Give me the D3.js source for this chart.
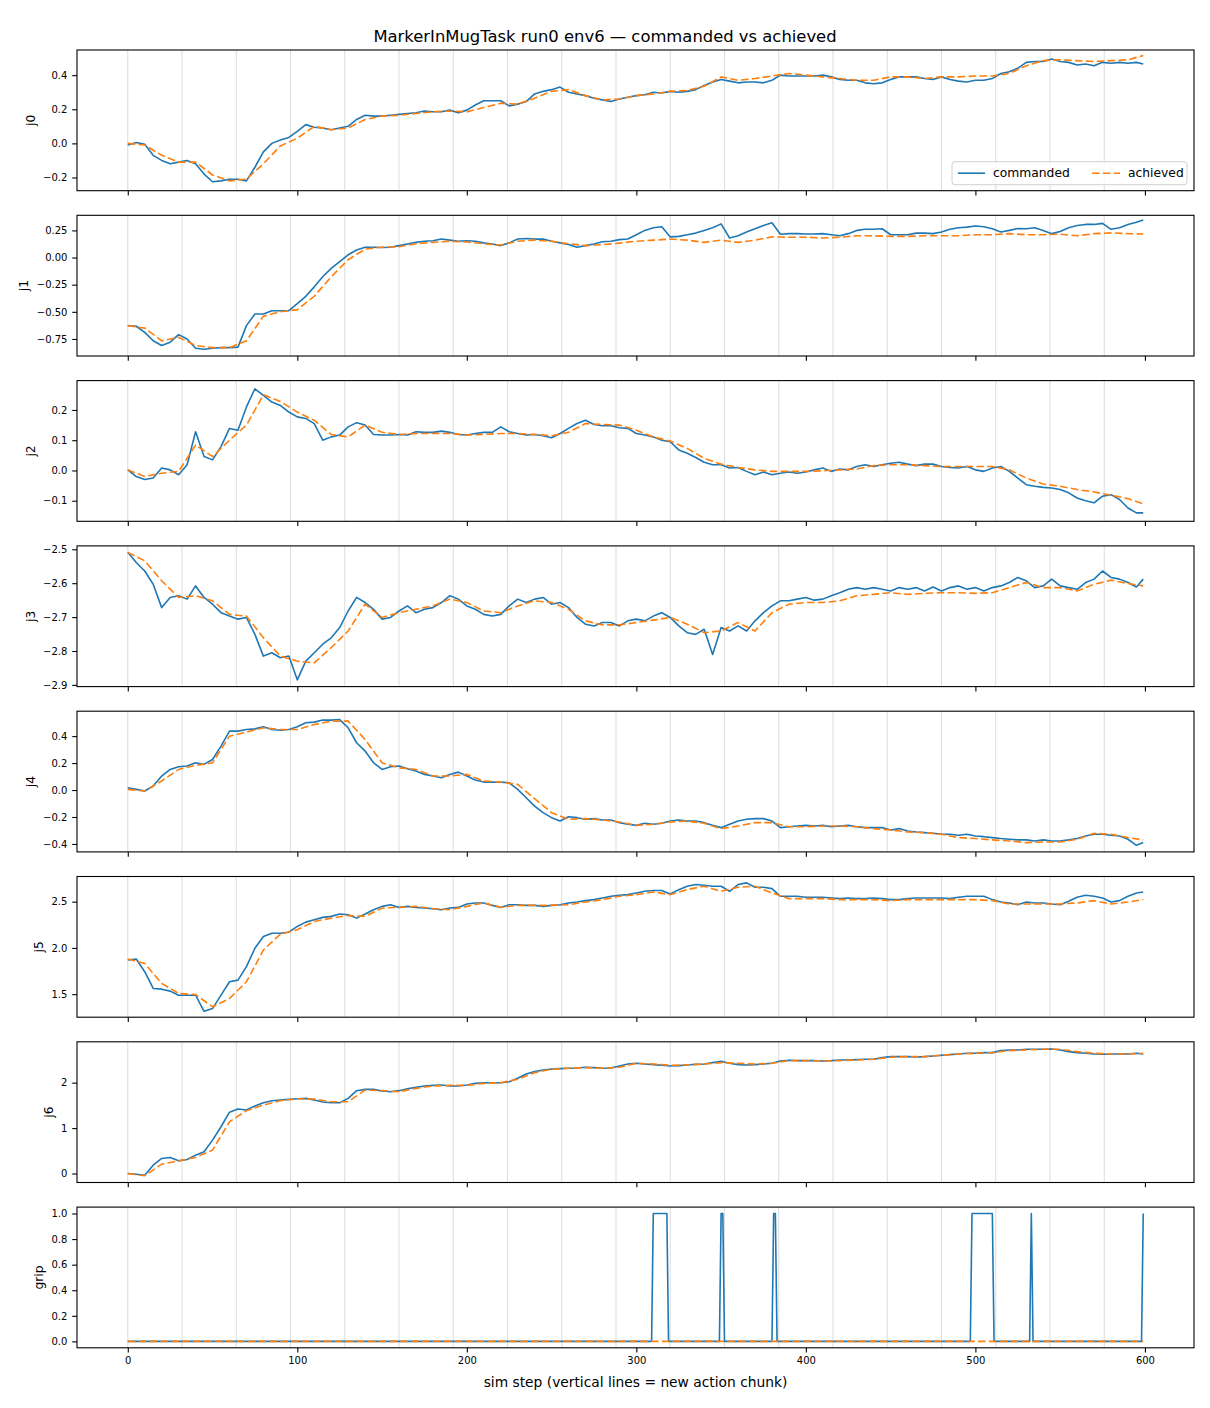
<!DOCTYPE html>
<html><head><meta charset="utf-8">
<script src="https://cdn.jsdelivr.net/npm/d3@7"></script>
<style>body{margin:0;background:#fff} svg{font-family:"DejaVu Sans",sans-serif}</style>
</head><body><svg id="c" width="1210" height="1408"></svg>
<script>
// ---------------- DATA ----------------
const titleText = "MarkerInMugTask run0 env6 \u2014 commanded vs achieved";
const xLabelText = "sim step (vertical lines = new action chunk)";
const jointNames = ["j0","j1","j2","j3","j4","j5","j6","grip"];
const chunkStarts = [0,32,64,96,128,160,192,224,256,288,320,352,384,416,448,480,512,544,576];
const xTickValues = [0,100,200,300,400,500,600];
// commanded sampled every 5 steps (last = 599), achieved every 10 steps (last = 599)
const cmdSteps = d3.range(0,600,5).concat([599]);
const achSteps = d3.range(0,600,10).concat([599]);

const j0Commanded = [-0.01,0.005,-0.005,-0.07,-0.10,-0.12,-0.11,-0.10,-0.12,-0.18,
-0.225,-0.22,-0.21,-0.21,-0.22,-0.14,-0.05,0.0,0.02,0.035,
0.07,0.11,0.095,0.09,0.08,0.09,0.10,0.14,0.165,0.16,
0.16,0.165,0.17,0.175,0.18,0.19,0.185,0.185,0.195,0.18,
0.195,0.225,0.25,0.25,0.25,0.22,0.23,0.245,0.29,0.305,
0.315,0.33,0.30,0.29,0.28,0.265,0.255,0.245,0.26,0.27,
0.28,0.285,0.30,0.295,0.305,0.30,0.305,0.315,0.34,0.36,
0.375,0.365,0.355,0.36,0.36,0.355,0.37,0.40,0.395,0.395,
0.395,0.395,0.40,0.39,0.375,0.37,0.37,0.355,0.35,0.355,
0.375,0.39,0.39,0.39,0.38,0.375,0.39,0.375,0.365,0.36,
0.37,0.37,0.38,0.41,0.42,0.44,0.475,0.48,0.48,0.495,
0.48,0.475,0.46,0.465,0.455,0.475,0.47,0.475,0.47,0.475,
0.465];
const j0Achieved = [0.0,-0.01,-0.07,-0.11,-0.11,-0.185,-0.22,-0.21,-0.12,-0.015,
0.03,0.10,0.08,0.09,0.14,0.16,0.165,0.175,0.185,0.19,
0.185,0.21,0.235,0.23,0.265,0.305,0.315,0.28,0.255,0.26,
0.28,0.29,0.305,0.31,0.335,0.39,0.37,0.38,0.395,0.41,
0.40,0.39,0.38,0.37,0.37,0.39,0.39,0.38,0.39,0.39,
0.395,0.395,0.41,0.455,0.485,0.49,0.485,0.48,0.485,0.49,
0.515];

const j1Commanded = [-0.627,-0.633,-0.69,-0.767,-0.81,-0.78,-0.71,-0.75,-0.835,-0.845,
-0.835,-0.83,-0.83,-0.825,-0.627,-0.52,-0.52,-0.49,-0.49,-0.49,
-0.425,-0.357,-0.27,-0.177,-0.10,-0.037,0.025,0.07,0.095,0.095,
0.093,0.095,0.11,0.125,0.14,0.15,0.155,0.17,0.16,0.15,
0.155,0.15,0.135,0.125,0.11,0.135,0.17,0.175,0.17,0.17,
0.15,0.135,0.12,0.095,0.11,0.125,0.145,0.15,0.165,0.17,
0.21,0.25,0.275,0.283,0.19,0.195,0.21,0.225,0.25,0.275,
0.31,0.18,0.20,0.235,0.265,0.295,0.32,0.215,0.22,0.22,
0.217,0.217,0.22,0.21,0.20,0.22,0.25,0.26,0.26,0.265,
0.21,0.21,0.21,0.225,0.225,0.22,0.235,0.26,0.275,0.28,
0.29,0.283,0.265,0.235,0.25,0.267,0.265,0.275,0.25,0.22,
0.24,0.275,0.295,0.305,0.305,0.315,0.26,0.275,0.305,0.325,
0.345];
const j1Achieved = [-0.627,-0.65,-0.767,-0.735,-0.81,-0.83,-0.83,-0.767,-0.54,-0.50,
-0.48,-0.357,-0.177,-0.02,0.078,0.095,0.10,0.127,0.14,0.15,
0.143,0.127,0.115,0.15,0.16,0.15,0.127,0.11,0.118,0.133,
0.15,0.16,0.17,0.16,0.14,0.16,0.14,0.16,0.19,0.187,
0.187,0.18,0.187,0.20,0.20,0.195,0.195,0.20,0.20,0.20,
0.21,0.21,0.22,0.21,0.21,0.215,0.20,0.22,0.227,0.22,
0.217];

const j2Commanded = [0.002,-0.02,-0.03,-0.025,0.008,0.002,-0.014,0.019,0.128,0.046,
0.035,0.079,0.139,0.133,0.21,0.27,0.248,0.226,0.215,0.193,
0.177,0.172,0.155,0.10,0.111,0.117,0.144,0.158,0.15,0.119,
0.117,0.117,0.119,0.117,0.128,0.126,0.126,0.13,0.126,0.119,
0.117,0.122,0.126,0.126,0.144,0.128,0.122,0.117,0.119,0.115,
0.108,0.122,0.139,0.155,0.166,0.152,0.148,0.148,0.141,0.139,
0.122,0.117,0.111,0.10,0.095,0.068,0.057,0.043,0.027,0.019,
0.019,0.008,0.01,-0.003,-0.014,-0.005,-0.014,-0.009,-0.005,-0.009,
-0.005,0.002,0.008,-0.003,0.005,0.002,0.013,0.019,0.013,0.019,
0.024,0.027,0.021,0.016,0.021,0.021,0.013,0.01,0.008,0.013,
0.002,-0.003,0.008,0.013,-0.003,-0.025,-0.047,-0.052,-0.056,-0.058,
-0.063,-0.074,-0.091,-0.10,-0.107,-0.085,-0.08,-0.096,-0.124,-0.14,
-0.14];
const j2Achieved = [0.002,-0.02,-0.009,-0.003,0.084,0.046,0.10,0.15,0.25,0.228,
0.193,0.166,0.119,0.111,0.15,0.126,0.119,0.122,0.122,0.122,
0.117,0.119,0.122,0.122,0.119,0.115,0.126,0.155,0.152,0.15,
0.133,0.111,0.097,0.073,0.04,0.021,0.01,0.002,-0.003,-0.003,
-0.003,-0.001,0.002,0.005,0.016,0.019,0.019,0.016,0.013,0.013,
0.013,0.013,0.002,-0.025,-0.045,-0.052,-0.063,-0.071,-0.082,-0.093,
-0.11];

const j3Commanded = [-2.509,-2.539,-2.564,-2.603,-2.672,-2.642,-2.637,-2.647,-2.608,-2.642,
-2.662,-2.687,-2.697,-2.706,-2.701,-2.751,-2.815,-2.805,-2.82,-2.815,
-2.885,-2.83,-2.805,-2.78,-2.761,-2.731,-2.682,-2.642,-2.657,-2.677,
-2.706,-2.701,-2.682,-2.667,-2.687,-2.677,-2.672,-2.657,-2.637,-2.647,
-2.667,-2.677,-2.692,-2.697,-2.692,-2.667,-2.647,-2.657,-2.647,-2.642,
-2.662,-2.657,-2.672,-2.701,-2.721,-2.726,-2.716,-2.716,-2.726,-2.711,
-2.706,-2.711,-2.697,-2.687,-2.701,-2.726,-2.746,-2.751,-2.736,-2.81,
-2.731,-2.741,-2.726,-2.741,-2.711,-2.687,-2.667,-2.652,-2.652,-2.647,
-2.642,-2.65,-2.647,-2.637,-2.628,-2.618,-2.613,-2.618,-2.613,-2.618,
-2.623,-2.613,-2.618,-2.613,-2.623,-2.611,-2.623,-2.613,-2.608,-2.618,
-2.613,-2.623,-2.613,-2.608,-2.598,-2.583,-2.593,-2.613,-2.608,-2.588,
-2.608,-2.613,-2.618,-2.598,-2.588,-2.564,-2.583,-2.588,-2.598,-2.611,
-2.588];
const j3Achieved = [-2.509,-2.534,-2.593,-2.642,-2.637,-2.652,-2.692,-2.697,-2.761,-2.815,
-2.83,-2.835,-2.79,-2.741,-2.662,-2.701,-2.687,-2.677,-2.667,-2.647,
-2.657,-2.682,-2.687,-2.667,-2.652,-2.657,-2.677,-2.711,-2.723,-2.723,
-2.716,-2.709,-2.701,-2.721,-2.746,-2.741,-2.716,-2.741,-2.687,-2.662,
-2.657,-2.657,-2.652,-2.637,-2.633,-2.628,-2.633,-2.63,-2.628,-2.628,
-2.63,-2.628,-2.613,-2.598,-2.613,-2.613,-2.623,-2.603,-2.591,-2.601,
-2.608];

const j4Commanded = [0.017,0.005,-0.007,0.03,0.104,0.153,0.173,0.178,0.202,0.19,
0.227,0.326,0.437,0.437,0.449,0.454,0.469,0.449,0.444,0.449,
0.469,0.499,0.504,0.519,0.519,0.523,0.462,0.351,0.289,0.202,
0.153,0.173,0.178,0.158,0.141,0.116,0.104,0.091,0.116,0.133,
0.104,0.074,0.059,0.059,0.059,0.054,0.005,-0.057,-0.119,-0.168,
-0.205,-0.23,-0.198,-0.205,-0.217,-0.212,-0.222,-0.222,-0.242,-0.254,
-0.262,-0.247,-0.254,-0.247,-0.23,-0.222,-0.23,-0.23,-0.242,-0.262,
-0.279,-0.254,-0.23,-0.217,-0.212,-0.212,-0.23,-0.279,-0.272,-0.267,
-0.262,-0.267,-0.262,-0.272,-0.267,-0.262,-0.272,-0.279,-0.279,-0.279,
-0.296,-0.286,-0.304,-0.311,-0.316,-0.321,-0.328,-0.328,-0.336,-0.328,
-0.341,-0.346,-0.353,-0.36,-0.365,-0.37,-0.37,-0.378,-0.37,-0.378,
-0.378,-0.37,-0.36,-0.341,-0.328,-0.328,-0.336,-0.341,-0.365,-0.41,
-0.39];
const j4Achieved = [0.005,-0.007,0.067,0.153,0.183,0.202,0.40,0.43,0.462,0.449,
0.449,0.486,0.511,0.511,0.375,0.202,0.165,0.153,0.104,0.104,
0.116,0.067,0.059,0.042,-0.064,-0.168,-0.217,-0.212,-0.222,-0.237,
-0.262,-0.254,-0.237,-0.23,-0.247,-0.286,-0.267,-0.242,-0.242,-0.272,
-0.272,-0.267,-0.267,-0.272,-0.286,-0.296,-0.311,-0.316,-0.328,-0.353,
-0.36,-0.37,-0.378,-0.39,-0.385,-0.385,-0.365,-0.321,-0.328,-0.353,
-0.37];

const j5Commanded = [1.870,1.880,1.743,1.562,1.554,1.533,1.489,1.489,1.489,1.315,
1.344,1.489,1.634,1.652,1.797,1.996,2.123,2.159,2.159,2.170,
2.232,2.279,2.304,2.330,2.341,2.366,2.359,2.322,2.366,2.413,
2.449,2.467,2.438,2.449,2.438,2.431,2.424,2.413,2.431,2.438,
2.475,2.486,2.486,2.460,2.438,2.467,2.467,2.460,2.460,2.449,
2.460,2.467,2.486,2.496,2.511,2.522,2.540,2.558,2.569,2.576,
2.594,2.612,2.620,2.620,2.583,2.630,2.667,2.685,2.678,2.667,
2.667,2.612,2.685,2.703,2.656,2.656,2.641,2.558,2.558,2.558,
2.547,2.547,2.547,2.540,2.533,2.540,2.533,2.533,2.540,2.533,
2.522,2.522,2.533,2.540,2.540,2.540,2.540,2.533,2.547,2.558,
2.558,2.558,2.522,2.496,2.486,2.467,2.496,2.486,2.486,2.475,
2.467,2.504,2.547,2.569,2.558,2.540,2.496,2.511,2.558,2.594,
2.605];
const j5Achieved = [1.880,1.833,1.616,1.507,1.496,1.362,1.453,1.634,1.978,2.149,
2.196,2.286,2.322,2.351,2.341,2.431,2.438,2.449,2.424,2.413,
2.449,2.486,2.438,2.460,2.460,2.460,2.467,2.496,2.522,2.558,
2.576,2.605,2.576,2.630,2.667,2.612,2.656,2.667,2.594,2.533,
2.533,2.533,2.522,2.522,2.522,2.511,2.522,2.522,2.522,2.522,
2.522,2.511,2.475,2.475,2.475,2.475,2.486,2.511,2.475,2.496,
2.522];

const j6Commanded = [0.0,-0.015,-0.037,0.184,0.331,0.353,0.279,0.309,0.404,0.478,
0.735,1.029,1.35,1.42,1.397,1.485,1.559,1.603,1.618,1.632,
1.647,1.654,1.618,1.574,1.559,1.559,1.654,1.824,1.853,1.853,
1.816,1.801,1.824,1.868,1.897,1.926,1.941,1.949,1.926,1.926,
1.949,1.985,2.0,2.0,2.0,2.022,2.096,2.191,2.243,2.279,
2.301,2.309,2.316,2.324,2.338,2.331,2.316,2.324,2.368,2.412,
2.426,2.412,2.397,2.382,2.368,2.375,2.39,2.404,2.412,2.441,
2.471,2.426,2.397,2.39,2.397,2.412,2.426,2.478,2.493,2.485,
2.485,2.485,2.478,2.485,2.5,2.5,2.507,2.515,2.515,2.551,
2.574,2.574,2.574,2.566,2.574,2.588,2.603,2.618,2.632,2.647,
2.647,2.662,2.662,2.706,2.721,2.721,2.735,2.735,2.735,2.743,
2.721,2.684,2.662,2.647,2.632,2.625,2.632,2.632,2.632,2.647,
2.632];
const j6Achieved = [0.0,-0.05,0.206,0.279,0.353,0.515,1.14,1.382,1.507,1.603,
1.647,1.64,1.581,1.581,1.838,1.824,1.801,1.875,1.926,1.941,
1.941,1.985,2.0,2.074,2.221,2.294,2.316,2.331,2.316,2.338,
2.426,2.412,2.382,2.39,2.412,2.441,2.426,2.412,2.426,2.485,
2.485,2.478,2.485,2.5,2.515,2.559,2.574,2.574,2.603,2.632,
2.647,2.662,2.706,2.721,2.735,2.735,2.684,2.647,2.632,2.632,
2.647];

// gripper: breakpoints of the commanded 0/1 signal, and achieved (flat 0)
const gripCmdSteps  = [0,309,310,318,319,349,350,351,352,380,381,382,383,497,498,510,511,532,533,534,598,599];
const gripCmdValues = [0,0,1,1,0,0,1,1,0,0,1,1,0,0,1,1,0,0,1,0,0,1];
const gripAchSteps  = [0,599];
const gripAchValues = [0,0];

// y tick values per panel
const j0Ticks = [-0.2,0.0,0.2,0.4];
const j1Ticks = [-0.75,-0.50,-0.25,0.00,0.25];
const j2Ticks = [-0.1,0.0,0.1,0.2];
const j3Ticks = [-2.9,-2.8,-2.7,-2.6,-2.5];
const j4Ticks = [-0.4,-0.2,0.0,0.2,0.4];
const j5Ticks = [1.5,2.0,2.5];
const j6Ticks = [0,1,2];
const gripTicks = [0.0,0.2,0.4,0.6,0.8,1.0];

// ---------------- LAYOUT ----------------
const axLeft = 77, axRight = 1194;
const panelTop0 = 50, panelStep = 165.3, panelH = 140.7;
const blue = "#1f77b4", orange = "#ff7f0e";

const zip = (xs, ys) => ys.map((v,i)=>({s: xs[i], v}));
const panels = [
  {name:"j0", cmd: zip(cmdSteps,j0Commanded), ach: zip(achSteps,j0Achieved), dom:[-0.2775,0.5475], ticks:j0Ticks, fmt:".1f"},
  {name:"j1", cmd: zip(cmdSteps,j1Commanded), ach: zip(achSteps,j1Achieved), dom:[-0.907,0.389], ticks:j1Ticks, fmt:".2f"},
  {name:"j2", cmd: zip(cmdSteps,j2Commanded), ach: zip(achSteps,j2Achieved), dom:[-0.168,0.297], ticks:j2Ticks, fmt:".1f"},
  {name:"j3", cmd: zip(cmdSteps,j3Commanded), ach: zip(achSteps,j3Achieved), dom:[-2.905,-2.490], ticks:j3Ticks, fmt:".1f"},
  {name:"j4", cmd: zip(cmdSteps,j4Commanded), ach: zip(achSteps,j4Achieved), dom:[-0.459,0.585], ticks:j4Ticks, fmt:".1f"},
  {name:"j5", cmd: zip(cmdSteps,j5Commanded), ach: zip(achSteps,j5Achieved), dom:[1.251,2.772], ticks:j5Ticks, fmt:".1f"},
  {name:"j6", cmd: zip(cmdSteps,j6Commanded), ach: zip(achSteps,j6Achieved), dom:[-0.198,2.90], ticks:j6Ticks, fmt:"d"},
  {name:"grip", cmd: zip(gripCmdSteps,gripCmdValues), ach: zip(gripAchSteps,gripAchValues), dom:[-0.05,1.05], ticks:gripTicks, fmt:".1f"}
];

const svg = d3.select("#c");
const x = d3.scaleLinear().domain([-29.95,628.95]).range([axLeft,axRight]);

svg.append("text").attr("x",605).attr("y",42).attr("text-anchor","middle")
  .attr("font-size",16.4).attr("fill","#000").text(titleText);

panels.forEach((p,i)=>{
  const top = panelTop0 + i*panelStep, bot = top + panelH;
  const y = d3.scaleLinear().domain(p.dom).range([bot, top]);
  const g = svg.append("g");
  const clipId = "clip"+i;
  svg.append("clipPath").attr("id",clipId).append("rect")
    .attr("x",axLeft).attr("y",top).attr("width",axRight-axLeft).attr("height",panelH);
  const inner = g.append("g").attr("clip-path",`url(#${clipId})`);

  inner.selectAll("line.chunk").data(chunkStarts).join("line")
    .attr("x1",d=>x(d)).attr("x2",d=>x(d)).attr("y1",top).attr("y2",bot)
    .attr("stroke","#808080").attr("stroke-opacity",0.28).attr("stroke-width",1);

  const line = d3.line().x(d=>x(d.s)).y(d=>y(d.v));
  inner.append("path").datum(p.cmd).attr("d",line).attr("fill","none")
    .attr("stroke",blue).attr("stroke-width",1.6).attr("stroke-linejoin","round");
  inner.append("path").datum(p.ach).attr("d",line).attr("fill","none")
    .attr("stroke",orange).attr("stroke-width",1.6).attr("stroke-dasharray","7.6,3.3");

  // axes
  const gx = g.append("g").attr("transform",`translate(0,${bot})`)
    .call(d3.axisBottom(x).tickValues(xTickValues).tickSize(4.8).tickPadding(4.8)
      .tickFormat(i===panels.length-1 ? d3.format("d") : ()=>""));
  const gy = g.append("g").attr("transform",`translate(${axLeft},0)`)
    .call(d3.axisLeft(y).tickValues(p.ticks).tickSize(4.8).tickPadding(4.8).tickFormat(d3.format(p.fmt)));
  [gx,gy].forEach(a=>{
    a.select(".domain").remove();
    a.attr("font-family","DejaVu Sans").attr("font-size",10);
    a.selectAll(".tick line").attr("stroke","#000").attr("stroke-width",1.1);
    a.selectAll(".tick text").attr("fill","#000");
  });
  g.append("rect").attr("x",axLeft).attr("y",top).attr("width",axRight-axLeft).attr("height",panelH)
    .attr("fill","none").attr("stroke","#000").attr("stroke-width",1.1);

  const bb = gy.node().getBBox();
  const lx = axLeft + bb.x - 5.5 - 3;
  svg.append("text").attr("transform",`translate(${lx},${(top+bot)/2}) rotate(-90)`)
    .attr("text-anchor","middle").attr("font-size",12.3).attr("fill","#000").text(p.name);

  if(i===0){
    const lw = 235, lh = 23;
    const lgx = axRight - 7 - lw, lgy = bot - 6 - lh;
    const lg = svg.append("g").attr("transform",`translate(${lgx},${lgy})`);
    lg.append("rect").attr("width",lw).attr("height",lh).attr("rx",3)
      .attr("fill","#fff").attr("fill-opacity",0.8).attr("stroke","#d0d0d0").attr("stroke-width",1);
    lg.append("line").attr("x1",6).attr("x2",33).attr("y1",lh/2).attr("y2",lh/2)
      .attr("stroke",blue).attr("stroke-width",1.6);
    lg.append("text").attr("x",41).attr("y",lh/2+4.3).attr("font-size",12.3).text("commanded");
    lg.append("line").attr("x1",140).attr("x2",168).attr("y1",lh/2).attr("y2",lh/2)
      .attr("stroke",orange).attr("stroke-width",1.6).attr("stroke-dasharray","7.6,3.3");
    lg.append("text").attr("x",176).attr("y",lh/2+4.3).attr("font-size",12.3).text("achieved");
  }
});

svg.append("text").attr("x",(axLeft+axRight)/2).attr("y",1387).attr("text-anchor","middle")
  .attr("font-size",13.8).attr("fill","#000").text(xLabelText);
</script>
</body></html>
